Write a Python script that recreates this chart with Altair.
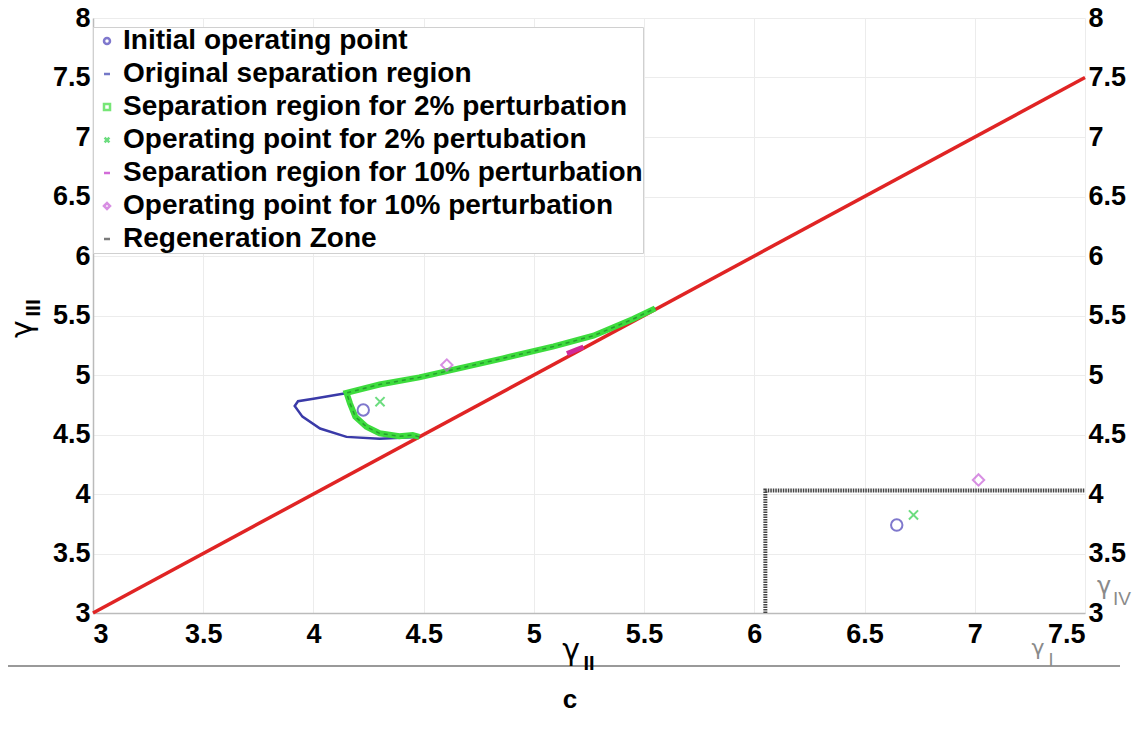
import altair as alt
import pandas as pd

# ---------------- data ----------------
X_TICKS = [3, 3.5, 4, 4.5, 5, 5.5, 6, 6.5, 7, 7.5]
Y_TICKS = [3, 3.5, 4, 4.5, 5, 5.5, 6, 6.5, 7, 7.5, 8]

# diagonal boundary (gamma_III = gamma_II)
RED_X = [3.0, 7.5]
RED_Y = [3.0, 7.5]

# original separation region (blue)
BLUE_X = [4.48, 4.42, 4.30, 4.15, 4.03, 3.95, 3.915, 3.93, 4.00, 4.08, 4.16,
          4.30, 4.48, 4.60, 4.86, 5.09, 5.27, 5.45, 5.55]
BLUE_Y = [4.48, 4.475, 4.465, 4.48, 4.55, 4.65, 4.74, 4.78, 4.80, 4.825, 4.85,
          4.92, 4.98, 5.03, 5.14, 5.24, 5.33, 5.47, 5.56]

# separation region for 2% perturbation (green)
GREEN_X = [4.48, 4.45, 4.39, 4.30, 4.24, 4.19, 4.166, 4.15, 4.30, 4.48, 4.60,
           4.86, 5.09, 5.27, 5.45, 5.55]
GREEN_Y = [4.48, 4.495, 4.485, 4.51, 4.565, 4.65, 4.76, 4.85, 4.92, 4.98, 5.03,
           5.14, 5.24, 5.33, 5.47, 5.56]

# separation region for 10% perturbation (magenta)
MAG_X = [5.15, 5.19, 5.225]
MAG_Y = [5.18, 5.21, 5.235]

# regeneration zone (black dotted)
REGEN_X = [6.05, 6.05, 7.5]
REGEN_Y = [3.0, 4.03, 4.03]

# operating points
INIT_X = [4.226, 6.646]
INIT_Y = [4.706, 3.739]
OP2_X = [4.302, 6.722]
OP2_Y = [4.776, 3.824]
OP10_X = [4.605, 7.017]
OP10_Y = [5.084, 4.118]

LEGEND_LABELS = [
    "Initial operating point",
    "Original separation region",
    "Separation region for 2% perturbation",
    "Operating point for 2% pertubation",
    "Separation region for 10% perturbation",
    "Operating point for 10% perturbation",
    "Regeneration Zone",
]
LEGEND_COLORS = ["#4a3fb8", "#3a40b0", "#3ddc3d", "#2fcf4a", "#c02fc8", "#c860d8", "#444444"]
X_PATH = "M-0.8,-0.8L0.8,0.8M-0.8,0.8L0.8,-0.8"
LEGEND_SHAPES = ["circle", "stroke", "square", X_PATH, "stroke", "diamond", "stroke"]

# ---------------- helpers ----------------
xs = alt.Scale(domain=[3, 7.5], nice=False, zero=False)
ys = alt.Scale(domain=[3, 8], nice=False, zero=False)
FONT = "Liberation Sans"


def path_df(xv, yv):
    return pd.DataFrame({"x": xv, "y": yv, "i": list(range(len(xv)))})


def xh():
    return alt.X("x:Q", scale=xs, axis=None)


def yh():
    return alt.Y("y:Q", scale=ys, axis=None)


# red diagonal with the bottom / left axes
red = alt.Chart(path_df(RED_X, RED_Y)).mark_line(color="#e02424", strokeWidth=3.5).encode(
    x=alt.X("x:Q", scale=xs, title="",
            axis=alt.Axis(values=X_TICKS, format="~g", labelPadding=8, grid=True)),
    y=alt.Y("y:Q", scale=ys, title="",
            axis=alt.Axis(values=Y_TICKS, format="~g", labelPadding=3, grid=True)),
    order="i:Q",
)

# regeneration zone with the right axis
regen = alt.Chart(path_df(REGEN_X, REGEN_Y)).mark_line(
    color="#444444", strokeWidth=4, strokeDash=[1.5, 1]
).encode(
    x=xh(),
    y=alt.Y("y:Q", scale=ys, title="",
            axis=alt.Axis(values=Y_TICKS, format="~g", orient="right", labelPadding=3,
                          grid=False, domain=False)),
    order="i:Q",
)

blue = alt.Chart(path_df(BLUE_X, BLUE_Y)).mark_line(color="#3a3aa8", strokeWidth=2.5).encode(
    x=xh(), y=yh(), order="i:Q")

green = alt.Chart(path_df(GREEN_X, GREEN_Y)).mark_line(color="#3ddc3d", strokeWidth=6).encode(
    x=xh(), y=yh(), order="i:Q")

green_dash = alt.Chart(path_df(GREEN_X, GREEN_Y)).mark_line(
    color="#1f8f2a", strokeWidth=1.5, strokeDash=[4, 4], opacity=0.8
).encode(x=xh(), y=yh(), order="i:Q")

mag = alt.Chart(path_df(MAG_X, MAG_Y)).mark_line(color="#d02a9a", strokeWidth=5).encode(
    x=xh(), y=yh(), order="i:Q")

pts = pd.DataFrame({
    "x": INIT_X + OP2_X + OP10_X,
    "y": INIT_Y + OP2_Y + OP10_Y,
    "series": [LEGEND_LABELS[0]] * len(INIT_X) + [LEGEND_LABELS[3]] * len(OP2_X)
    + [LEGEND_LABELS[5]] * len(OP10_X),
})

leg = alt.Legend(
    title="", orient="none", legendX=0, legendY=9, padding=0, rowPadding=5,
    labelFontSize=28, labelFont=FONT, labelFontWeight="bold", labelColor="black",
    symbolSize=36, symbolStrokeWidth=2.5, strokeColor="#d0d0d0", fillColor="white",
    labelOffset=2, labelLimit=1000, cornerRadius=0,
)

points = alt.Chart(pts).mark_point(filled=False, size=130, strokeWidth=2).encode(
    x=xh(), y=yh(),
    color=alt.Color("series:N", scale=alt.Scale(domain=LEGEND_LABELS, range=LEGEND_COLORS),
                    legend=leg, sort=LEGEND_LABELS),
    shape=alt.Shape("series:N", scale=alt.Scale(domain=LEGEND_LABELS, range=LEGEND_SHAPES),
                    legend=leg, sort=LEGEND_LABELS),
)

# ---------------- annotations ----------------
one = pd.DataFrame({"t": [""]})


def label(txt, px, py, size, color="black", weight="normal", angle=0, font="DejaVu Sans"):
    return alt.Chart(pd.DataFrame({"t": [txt]})).mark_text(
        fontSize=size, color=color, fontWeight=weight, angle=angle, font=font,
        align="center", baseline="middle"
    ).encode(x=alt.value(px), y=alt.value(py), text="t:N")


rule = alt.Chart(one).mark_rule(color="#999999", strokeWidth=2).encode(
    x=alt.value(-85), x2=alt.value(1027), y=alt.value(648))

annots = [
    rule,
    label("c", 477, 682, 26, weight="bold", font=FONT),
    label("γ", 478, 633, 30),
    label("II", 496, 646, 20, weight="bold", font=FONT),
    label("γ", -70, 311, 30, angle=270),
    label("III", -59, 290, 21, weight="bold", font=FONT, angle=270),
    label("γ", 1011, 569, 24, color="#8a8a8a"),
    label("IV", 1029, 581, 19, color="#8a8a8a", font=FONT),
    label("γ", 945, 630, 22, color="#8a8a8a"),
    label("I", 958, 643, 18, color="#8a8a8a", font=FONT),
]

chart = alt.layer(
    red, blue, green, green_dash, mag, regen, points, *annots
).resolve_axis(x="independent", y="independent").properties(
    width=992, height=595,
    autosize=alt.AutoSizeParams(type="none"),
    padding={"left": 93, "top": 18, "right": 47, "bottom": 116},
).configure_axis(
    labelFont=FONT, labelFontWeight="bold", labelFontSize=27, labelColor="black",
    gridColor="#ececec", gridWidth=1, ticks=False, domainColor="#bbbbbb", domainWidth=1.5,
).configure_view(stroke=None)

chart.save("out.html", embed_options={"renderer": "svg", "actions": False})
